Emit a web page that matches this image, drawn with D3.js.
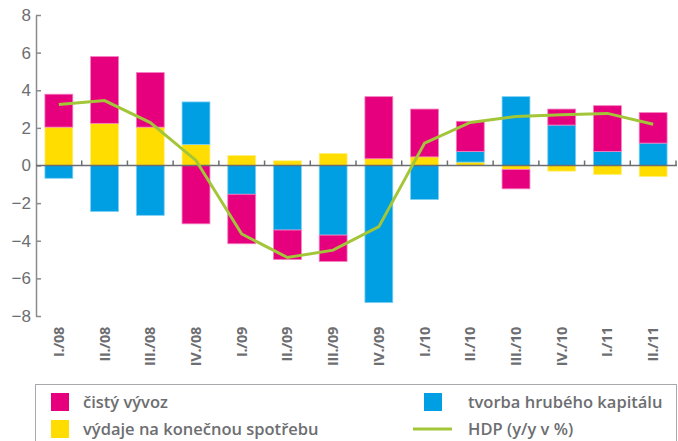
<!DOCTYPE html>
<html>
<head>
<meta charset="utf-8">
<script src="https://cdn.jsdelivr.net/npm/d3@7"></script>
<style>
  body { margin: 0; background: #fff; }
  svg { display: block; font-family: "Open Sans", "Noto Sans", sans-serif; }
</style>
</head>
<body>
<div id="chart"></div>
<script>
// quarters
var quarters = ["I./08", "II./08", "III./08", "IV./08", "I./09", "II./09", "III./09",
                "IV./09", "I./10", "II./10", "III./10", "IV./10", "I./11", "II./11"];

// contributions to GDP growth (p.b.)
var spotreba = [2.04, 2.24, 2.04, 1.12, 0.53, 0.25, 0.64, 0.36, 0.46, 0.18, -0.21, -0.30, -0.48, -0.59];
var kapital  = [-0.68, -2.45, -2.65, 2.26, -1.53, -3.43, -3.70, -7.29, -1.81, 0.57, 3.66, 2.15, 0.75, 1.19];
var vyvoz    = [1.75, 3.55, 2.90, -3.10, -2.63, -1.57, -1.40, 3.30, 2.54, 1.60, -1.03, 0.85, 2.43, 1.62];

// HDP y/y in %
var hdp = [3.24, 3.45, 2.28, 0.27, -3.64, -4.89, -4.50, -3.25, 1.19, 2.29, 2.60, 2.70, 2.77, 2.19];

var yTicks = [-8, -6, -4, -2, 0, 2, 4, 6, 8];

var keys = ["spotreba", "kapital", "vyvoz"];
var fills   = {spotreba: "#ffdd00", kapital: "#009fe3", vyvoz: "#e6007e"};
var strokes = {spotreba: "#fff07a", kapital: "#7fd0f2", vyvoz: "#f47fbf"};

var width = 678, height = 441;
var svg = d3.select("#chart").append("svg")
    .attr("width", width)
    .attr("height", height);

var x = d3.scaleBand()
    .domain(quarters)
    .range([36, 676])
    .paddingInner(0.39)
    .paddingOuter(0.195);

var y = d3.scaleLinear()
    .domain([-8, 8])
    .range([316, 15]);

var rows = quarters.map(function(q, i) {
    return {q: q, spotreba: spotreba[i], kapital: kapital[i], vyvoz: vyvoz[i]};
});

var stacked = d3.stack()
    .keys(keys)
    .offset(d3.stackOffsetDiverging)(rows);

// bars
svg.append("g")
  .selectAll("g")
  .data(stacked)
  .enter()
  .append("g")
    .attr("fill", function(d) { return fills[d.key]; })
    .attr("stroke", function(d) { return strokes[d.key]; })
    .attr("stroke-width", 0.8)
  .selectAll("rect")
  .data(function(d) { return d; })
  .enter()
  .append("rect")
    .attr("x", function(d) { return x(d.data.q); })
    .attr("width", x.bandwidth())
    .attr("y", function(d) { return y(Math.max(d[0], d[1])); })
    .attr("height", function(d) { return Math.abs(y(d[0]) - y(d[1])); });

// y axis
var yAxis = svg.append("g")
    .attr("transform", "translate(36,0)")
    .call(d3.axisLeft(y).tickValues(yTicks).tickSizeInner(-5).tickSizeOuter(0)
          .tickFormat(function(d) { return d < 0 ? "\u2212" + Math.abs(d) : d; }));
yAxis.select(".domain").attr("stroke", "#8a8b8e").attr("stroke-width", 1.5);
yAxis.selectAll(".tick line").attr("stroke", "#8a8b8e").attr("stroke-width", 1.5);
yAxis.selectAll(".tick text")
    .attr("x", -5)
    .attr("fill", "#6d6e71")
    .style("font-size", "17px")
    .style("font-weight", "500");

// zero line with category boundary ticks
var zero = svg.append("g")
    .attr("transform", "translate(0," + y(0) + ")");
zero.append("line")
    .attr("x1", 36).attr("x2", 677)
    .attr("stroke", "#6d6e71").attr("stroke-width", 1.5);
zero.selectAll(".bt")
  .data(quarters)
  .enter()
  .append("line")
    .attr("x1", function(d) { return x(d) + x.bandwidth() + x.step() * x.paddingInner() / 2; })
    .attr("x2", function(d) { return x(d) + x.bandwidth() + x.step() * x.paddingInner() / 2; })
    .attr("y1", 0).attr("y2", -5)
    .attr("stroke", "#6d6e71").attr("stroke-width", 1.5);

// x labels
svg.append("g")
  .selectAll("text")
  .data(quarters)
  .enter()
  .append("text")
    .attr("transform", function(d) {
        return "translate(" + (x(d) + x.bandwidth() / 2 + 5) + ",327) rotate(-90)";
    })
    .attr("text-anchor", "end")
    .attr("fill", "#6d6e71")
    .style("font-size", "14.5px")
    .style("font-weight", "bold")
    .style("letter-spacing", "-0.3px")
    .text(function(d) { return d; });

// HDP line
svg.append("path")
    .datum(hdp)
    .attr("fill", "none")
    .attr("stroke", "#a3c639")
    .attr("stroke-width", 3)
    .attr("d", d3.line()
        .x(function(d, i) { return x(quarters[i]) + x.bandwidth() / 2; })
        .y(function(d) { return y(d); }));

// legend
var lg = svg.append("g");
lg.append("rect")
    .attr("x", 35.5).attr("y", 384.5)
    .attr("width", 641).attr("height", 80)
    .attr("fill", "none")
    .attr("stroke", "#a7a9ac")
    .attr("stroke-width", 1);

var legendItems = [
    {label: "čistý vývoz", key: "vyvoz", lx: 51, ly: 393, tx: 83},
    {label: "výdaje na konečnou spotřebu", key: "spotreba", lx: 51, ly: 420, tx: 83},
    {label: "tvorba hrubého kapitálu", key: "kapital", lx: 424, ly: 393, tx: 468}
];
legendItems.forEach(function(it) {
    lg.append("rect")
        .attr("x", it.lx).attr("y", it.ly)
        .attr("width", 18).attr("height", 18)
        .attr("fill", fills[it.key]);
    lg.append("text")
        .attr("x", it.tx)
        .attr("y", it.ly + 15)
        .attr("fill", "#6d6e71")
        .style("font-size", "16.5px")
        .style("font-weight", "600")
        .text(it.label);
});
lg.append("line")
    .attr("x1", 413).attr("x2", 452)
    .attr("y1", 429).attr("y2", 429)
    .attr("stroke", "#a3c639").attr("stroke-width", 3);
lg.append("text")
    .attr("x", 468).attr("y", 435)
    .attr("fill", "#6d6e71")
    .style("font-size", "16.5px")
    .style("font-weight", "600")
    .text("HDP (y/y v %)");
</script>
</body>
</html>
